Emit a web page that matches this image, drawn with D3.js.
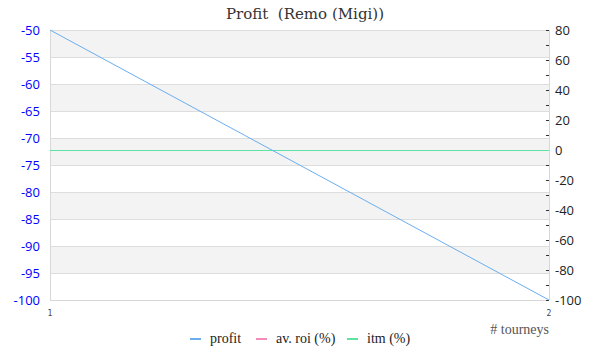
<!DOCTYPE html>
<html><head><meta charset="utf-8">
<script src="https://cdn.jsdelivr.net/npm/d3@7"></script>
<style>body{margin:0;background:#fff}svg{display:block}</style>
</head><body>
<svg id="c" width="600" height="360"></svg>
<script>
const tourneys = [1, 2];
const profit = [-50, -100];
const avRoi = [0, 0];
const itm = [0, 0];
const leftTicks = [-50, -55, -60, -65, -70, -75, -80, -85, -90, -95, -100];
const rightTicks = [80, 60, 40, 20, 0, -20, -40, -60, -80, -100];
const rightMinor = [70, 50, 30, 10, -10, -30, -50, -70, -90];
const seriesNames = ["profit", "av. roi (%)", "itm (%)"];
const colors = ["#6aaef0", "#f38cb9", "#5ee3a3"];

const svg = d3.select("#c");
const L = 50, R = 549, T = 30, B = 300;
const x = d3.scaleLinear().domain([1, 2]).range([L, R]);
const yL = d3.scaleLinear().domain([-100, -50]).range([B, T]);
const yR = d3.scaleLinear().domain([-100, 80]).range([B, T]);

// bands
for (let i = 0; i < leftTicks.length - 1; i += 2) {
  svg.append("rect").attr("x", L).attr("width", R - L)
    .attr("y", yL(leftTicks[i])).attr("height", yL(leftTicks[i + 1]) - yL(leftTicks[i]))
    .attr("fill", "#f3f3f3");
}
// grid
svg.append("g").selectAll("line").data(leftTicks).join("line")
  .attr("x1", L).attr("x2", R).attr("y1", d => Math.round(yL(d)) + 0.5).attr("y2", d => Math.round(yL(d)) + 0.5)
  .attr("stroke", "#dddddd");
// axis lines
svg.append("line").attr("x1", L + 0.5).attr("x2", L + 0.5).attr("y1", T).attr("y2", B).attr("stroke", "#d8d8d8");
svg.append("line").attr("x1", R + 0.5).attr("x2", R + 0.5).attr("y1", T).attr("y2", B).attr("stroke", "#d8d8d8");
svg.append("line").attr("x1", L).attr("x2", R).attr("y1", B + 0.5).attr("y2", B + 0.5).attr("stroke", "#d8d8d8");

// left labels
svg.append("g").selectAll("text").data(leftTicks).join("text")
  .attr("x", 40).attr("y", d => yL(d) + 5).attr("text-anchor", "end")
  .attr("fill", "#0000ff").attr("font-family", "Open Sans, sans-serif").attr("font-size", 13)
  .text(d => d);
// right ticks
svg.append("g").selectAll("line").data(rightTicks.concat(rightMinor)).join("line")
  .attr("x1", R - 3).attr("x2", R).attr("y1", d => Math.round(yR(d)) + 0.5).attr("y2", d => Math.round(yR(d)) + 0.5)
  .attr("stroke", "#333");
svg.append("g").selectAll("text").data(rightTicks).join("text")
  .attr("x", 555).attr("y", d => yR(d) + 5).attr("text-anchor", "start")
  .attr("fill", "#222").attr("font-family", "Open Sans, sans-serif").attr("font-size", 13)
  .text(d => d);
// x labels
svg.append("g").selectAll("text").data(tourneys).join("text")
  .attr("x", d => x(d)).attr("y", 316).attr("text-anchor", "middle")
  .attr("fill", "#444").attr("font-family", "DejaVu Sans Mono, monospace").attr("font-size", 8)
  .text(d => d);
svg.append("text").attr("x", R).attr("y", 334).attr("text-anchor", "end")
  .attr("fill", "#555").attr("font-family", "Liberation Serif, serif").attr("font-size", 14)
  .text("# tourneys");

// title
svg.append("text").attr("x", 305).attr("y", 19).attr("text-anchor", "middle")
  .attr("fill", "#333").attr("font-family", "DejaVu Serif, serif").attr("font-size", 15)
  .style("white-space", "pre")
  .text("Profit  (Remo (Migi))");

// series
const line = (yS, snap) => d3.line().x((d, i) => x(tourneys[i]))
  .y(d => snap ? Math.round(yS(d)) + 0.5 : yS(d));
svg.append("path").datum(avRoi).attr("d", line(yR, true)).attr("fill", "none").attr("stroke", colors[1]).attr("stroke-width", 1);
svg.append("path").datum(itm).attr("d", line(yR, true)).attr("fill", "none").attr("stroke", colors[2]).attr("stroke-width", 1);
svg.append("path").datum(profit).attr("d", line(yL, false)).attr("fill", "none").attr("stroke", colors[0]).attr("stroke-width", 1);

// legend
const legX = [190, 256, 347];
const lg = svg.append("g").selectAll("g").data(seriesNames).join("g")
  .attr("transform", (d, i) => `translate(${legX[i]},339)`);
lg.append("line").attr("x1", 0).attr("x2", 11).attr("y1", 0).attr("y2", 0)
  .attr("stroke", (d, i) => colors[i]).attr("stroke-width", 2);
lg.append("text").attr("x", 20).attr("y", 4).attr("fill", "#222")
  .attr("font-family", "Liberation Serif, serif").attr("font-size", 14).text(d => d);
</script>
</body></html>
